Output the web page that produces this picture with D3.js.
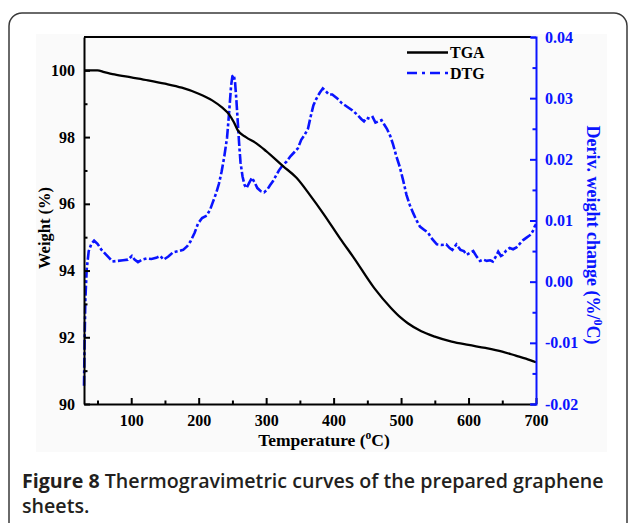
<!DOCTYPE html>
<html><head><meta charset="utf-8">
<script src="https://cdn.jsdelivr.net/npm/d3@7"></script>
<style>
html,body{margin:0;padding:0;background:#fff;}
svg{display:block;}
</style></head>
<body>
<svg id="chart" width="629" height="523"></svg>
<script>
// ---- data ----
const tgaTemp   = [30, 50, 60, 75, 100, 125, 150, 175, 200, 220, 235, 245, 252, 258, 270, 285, 300, 325, 345, 365, 385, 410, 430, 460, 485, 500, 510, 530, 550, 575, 600, 625, 650, 670, 685, 700];
const tgaWeight = [100.0, 100.0, 99.95, 99.88, 99.79, 99.70, 99.60, 99.48, 99.30, 99.10, 98.88, 98.68, 98.45, 98.20, 98.00, 97.82, 97.58, 97.13, 96.78, 96.26, 95.70, 94.95, 94.38, 93.48, 92.88, 92.58, 92.42, 92.18, 92.02, 91.87, 91.77, 91.68, 91.57, 91.45, 91.36, 91.25];

const dtgTemp  = [30, 31, 32, 34, 37, 41, 45, 50, 56, 62, 68, 72, 80, 88, 95, 101, 105, 110, 116, 123, 130, 137, 143, 148, 155, 162, 170, 177, 183, 188, 194, 199, 205, 212, 217, 221, 226, 230, 234, 238, 242, 245, 248, 250, 252, 254, 256, 258, 260, 262, 265, 268, 271, 275, 279, 283, 287, 292, 297, 302, 306, 310, 314, 319, 325, 330, 336, 342, 347, 352, 357, 362, 366, 370, 374, 379, 384, 388, 393, 398, 405, 412, 420, 428, 435, 441, 445, 449, 454, 458, 462, 466, 471, 475, 479, 484, 488, 493, 498, 503, 508, 513, 518, 523, 528, 534, 540, 546, 553, 560, 567, 572, 576, 582, 588, 593, 597, 602, 607, 612, 617, 622, 627, 632, 636, 641, 644, 648, 651, 656, 661, 666, 671, 676, 681, 686, 691, 695, 698, 700];
const dtgValue = [-0.017, -0.009, -0.003, 0.002, 0.005, 0.0062, 0.0067, 0.0062, 0.0052, 0.0045, 0.0038, 0.0033, 0.0034, 0.0035, 0.0036, 0.0042, 0.0036, 0.0032, 0.0036, 0.0038, 0.0037, 0.0039, 0.0042, 0.0036, 0.0041, 0.0048, 0.0050, 0.0052, 0.0058, 0.0066, 0.0080, 0.0095, 0.0104, 0.0108, 0.0118, 0.0130, 0.0145, 0.0160, 0.0180, 0.0205, 0.0235, 0.0275, 0.0320, 0.0336, 0.0338, 0.0325, 0.0295, 0.0260, 0.0225, 0.0195, 0.0172, 0.0158, 0.0153, 0.0162, 0.0170, 0.0162, 0.0153, 0.0148, 0.0146, 0.0151, 0.0158, 0.0164, 0.0172, 0.0182, 0.0191, 0.0196, 0.0205, 0.0212, 0.0218, 0.0232, 0.0240, 0.0250, 0.0270, 0.0288, 0.0298, 0.0308, 0.0316, 0.0312, 0.0306, 0.0306, 0.0300, 0.0292, 0.0286, 0.0280, 0.0273, 0.0266, 0.0262, 0.0268, 0.0266, 0.0269, 0.0260, 0.0262, 0.0264, 0.0257, 0.0250, 0.0238, 0.0225, 0.0205, 0.0188, 0.0166, 0.0142, 0.0125, 0.0112, 0.0100, 0.0090, 0.0085, 0.0080, 0.0070, 0.0061, 0.0060, 0.0061, 0.0055, 0.0052, 0.0061, 0.0052, 0.0050, 0.0044, 0.0047, 0.0050, 0.0041, 0.0034, 0.0036, 0.0034, 0.0035, 0.0033, 0.0042, 0.0049, 0.0042, 0.0044, 0.0051, 0.0055, 0.0053, 0.0056, 0.0062, 0.0068, 0.0072, 0.0076, 0.0082, 0.0090, 0.0094];

const xTicks      = [100, 200, 300, 400, 500, 600, 700];
const xMinorTicks = [50, 150, 250, 350, 450, 550, 650];
const yLeftTicks  = [90, 92, 94, 96, 98, 100];
const yLeftMinor  = [91, 93, 95, 97, 99];
const yRightTicks = [-0.02, -0.01, 0.00, 0.01, 0.02, 0.03, 0.04];
const yRightMinor = [-0.015, -0.005, 0.005, 0.015, 0.025, 0.035];
const seriesNames = ["TGA", "DTG"];
const captionBold = "Figure 8";
const captionRest1 = " Thermogravimetric curves of the prepared graphene";
const captionRest2 = "sheets.";

// ---- layout ----
const svg = d3.select("#chart");
const L = 84, R = 536, T = 37, B = 404;
const BLUE = "#0a14ff";
const serif = "'Liberation Serif','Times New Roman',serif";

// frame
svg.append("rect").attr("x", 9).attr("y", 13).attr("width", 618).attr("height", 620)
  .attr("rx", 13).attr("fill", "#fff").attr("stroke", "#3a3a3a").attr("stroke-width", 1.5);
svg.append("rect").attr("x", 36).attr("y", 34).attr("width", 571).attr("height", 418).attr("fill", "#fafafa");

const x = d3.scaleLinear().domain([30, 700]).range([L, R]);
const yL = d3.scaleLinear().domain([90, 101]).range([B, T]);
const yR = d3.scaleLinear().domain([-0.02, 0.04]).range([B, T]);

// lines
const tgaData = tgaTemp.map((t, i) => [t, tgaWeight[i]]);
const dtgData = dtgTemp.map((t, i) => [t, dtgValue[i]]);

svg.append("path").datum(dtgData)
  .attr("d", d3.line().x(d => x(d[0])).y(d => yR(d[1])).curve(d3.curveLinear))
  .attr("fill", "none").attr("stroke", BLUE).attr("stroke-width", 2.6)
  .attr("stroke-dasharray", "10,2.5,3,2.5");

svg.append("path").datum(tgaData)
  .attr("d", d3.line().x(d => x(d[0])).y(d => yL(d[1])).curve(d3.curveMonotoneX))
  .attr("fill", "none").attr("stroke", "#000").attr("stroke-width", 2.3);

// axes
function styleAxis(g, color, size) {
  g.selectAll("path,line").attr("stroke", color).attr("stroke-width", 2);
  g.selectAll("text").attr("fill", color).style("font-family", serif)
    .style("font-weight", "bold").style("font-size", size + "px");
}

// top line
svg.append("line").attr("x1", L).attr("x2", R - 5).attr("y1", T).attr("y2", T)
  .attr("stroke", "#000").attr("stroke-width", 2);

const gx = svg.append("g").attr("transform", `translate(0,${B})`)
  .call(d3.axisBottom(x).tickValues(xTicks).tickSizeInner(-6).tickSizeOuter(0).tickPadding(11).tickFormat(d3.format("d")));
styleAxis(gx, "#000", 16);
const gxm = svg.append("g").attr("transform", `translate(0,${B})`)
  .call(d3.axisBottom(x).tickValues(xMinorTicks).tickSize(-3.5).tickFormat(""));
gxm.select(".domain").remove();
styleAxis(gxm, "#000", 16);

const gy = svg.append("g").attr("transform", `translate(${L},0)`)
  .call(d3.axisLeft(yL).tickValues(yLeftTicks).tickSizeInner(-6).tickSizeOuter(0).tickPadding(9).tickFormat(d3.format("d")));
styleAxis(gy, "#000", 16);
const gym = svg.append("g").attr("transform", `translate(${L},0)`)
  .call(d3.axisLeft(yL).tickValues(yLeftMinor).tickSize(-3.5).tickFormat(""));
gym.select(".domain").remove();
styleAxis(gym, "#000", 16);

const gr = svg.append("g").attr("transform", `translate(${R},0)`)
  .call(d3.axisRight(yR).tickValues(yRightTicks).tickSizeInner(-6).tickSizeOuter(-5).tickPadding(9).tickFormat(d => d.toFixed(2)));
styleAxis(gr, BLUE, 16);
const grm = svg.append("g").attr("transform", `translate(${R},0)`)
  .call(d3.axisRight(yR).tickValues(yRightMinor).tickSize(-3.5).tickFormat(""));
grm.select(".domain").remove();
styleAxis(grm, BLUE, 16);

// axis titles
const xt = svg.append("text").attr("x", 324).attr("y", 446).attr("text-anchor", "middle")
  .style("font-family", serif).style("font-weight", "bold").style("font-size", "17.5px").attr("fill", "#000");
xt.append("tspan").text("Temperature (");
xt.append("tspan").attr("dy", -7).style("font-size", "11.5px").text("o");
xt.append("tspan").attr("dy", 7).text("C)");

svg.append("text").attr("transform", "translate(50,228) rotate(-90)").attr("text-anchor", "middle")
  .style("font-family", serif).style("font-weight", "bold").style("font-size", "16.5px").attr("fill", "#000")
  .text("Weight (%)");

const rt = svg.append("text").attr("transform", "translate(587,235) rotate(90)").attr("text-anchor", "middle")
  .style("font-family", serif).style("font-weight", "bold").style("font-size", "18px").attr("fill", BLUE);
rt.append("tspan").text("Deriv. weight change (%/");
rt.append("tspan").attr("dy", -7).style("font-size", "12px").text("0");
rt.append("tspan").attr("dy", 7).text("C)");

// legend
const leg = svg.append("g");
leg.append("line").attr("x1", 407).attr("x2", 448).attr("y1", 52.5).attr("y2", 52.5)
  .attr("stroke", "#000").attr("stroke-width", 2.3);
leg.append("line").attr("x1", 407).attr("x2", 448).attr("y1", 73).attr("y2", 73)
  .attr("stroke", BLUE).attr("stroke-width", 2.6).attr("stroke-dasharray", "10,5,3,5");
leg.selectAll("text.lg").data(seriesNames).enter().append("text").attr("class", "lg")
  .attr("x", 450).attr("y", (d, i) => 58 + i * 20.5)
  .style("font-family", serif).style("font-weight", "bold").style("font-size", "16px").attr("fill", "#000")
  .text(d => d);

// caption
const cap = svg.append("text").attr("x", 22).attr("y", 488)
  .style("font-family", "'Open Sans','Noto Sans',sans-serif").style("font-size", "19px").attr("fill", "#231f20");
cap.append("tspan").style("font-weight", 700).text(captionBold);
cap.append("tspan").style("font-weight", 600).text(captionRest1);
const w = cap.node().getComputedTextLength();
const fs = 19 * 582 / w;
cap.style("font-size", fs + "px");
svg.append("text").attr("x", 22).attr("y", 513)
  .style("font-family", "'Open Sans','Noto Sans',sans-serif").style("font-size", fs + "px")
  .style("font-weight", 600).attr("fill", "#231f20").text(captionRest2);
</script>
</body></html>
